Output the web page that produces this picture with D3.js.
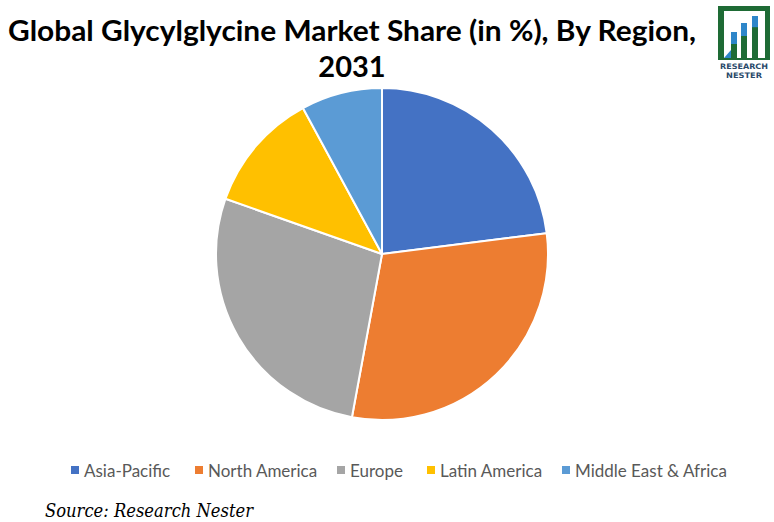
<!DOCTYPE html>
<html><head><meta charset="utf-8">
<script src="https://cdn.jsdelivr.net/npm/d3@7/dist/d3.min.js"></script>
<style>body{margin:0;background:#fff;}svg{display:block;}</style>
</head><body>
<svg id="chart" width="774" height="522"></svg>
<script>
const regions = ["Asia-Pacific", "North America", "Europe", "Latin America", "Middle East & Africa"];
const shares = [23.0, 29.9, 27.5, 11.7, 7.9];
const colors = ["#4472C4", "#ED7D31", "#A5A5A5", "#FFC000", "#5B9BD5"];
const titleLines = ["Global Glycylglycine Market Share (in %), By Region,", "2031"];
const sourceText = "Source: Research Nester";

const svg = d3.select("#chart");
svg.append("rect").attr("width", 774).attr("height", 522).attr("fill", "#fff");

// Title
svg.append("text").attr("x", 352).attr("y", 41).attr("text-anchor", "middle")
  .attr("font-family", "Lato, 'Open Sans', sans-serif").attr("font-weight", "bold")
  .attr("font-size", 29).attr("fill", "#000")
  .attr("textLength", 688).attr("lengthAdjust", "spacingAndGlyphs").text(titleLines[0]);
svg.append("text").attr("x", 352).attr("y", 76.5).attr("text-anchor", "middle")
  .attr("font-family", "Lato, 'Open Sans', sans-serif").attr("font-weight", "bold")
  .attr("font-size", 29).attr("fill", "#000").text(titleLines[1]);

// Pie
const cx = 382, cy = 254, r = 166;
const pie = d3.pie().sort(null).value(d => d);
const arc = d3.arc().innerRadius(0).outerRadius(r);
const g = svg.append("g").attr("transform", `translate(${cx},${cy})`);
g.selectAll("path").data(pie(shares)).join("path")
  .attr("d", arc).attr("fill", (d, i) => colors[i])
  .attr("stroke", "#fff").attr("stroke-width", 2).attr("stroke-linejoin", "round");

// Legend
const legendX = [71, 195, 337, 427, 562];
const lg = svg.append("g");
regions.forEach((name, i) => {
  lg.append("rect").attr("x", legendX[i]).attr("y", 466).attr("width", 8).attr("height", 8).attr("fill", colors[i]);
  lg.append("text").attr("x", legendX[i] + 13).attr("y", 476.5)
    .attr("font-family", "Lato, 'Open Sans', sans-serif").attr("font-size", 17).attr("fill", "#595959").text(name);
});

// Source
svg.append("text").attr("x", 45).attr("y", 517)
  .attr("font-family", "'DejaVu Serif', 'Liberation Serif', serif").attr("font-style", "italic")
  .attr("font-size", 18).attr("fill", "#000").attr("textLength", 208).attr("lengthAdjust", "spacingAndGlyphs").text(sourceText);

// Logo
const logo = svg.append("g");
const green = "#1E6B35", blue = "#2E86C9";
logo.append("rect").attr("x", 718).attr("y", 6).attr("width", 52).attr("height", 5).attr("fill", green);
logo.append("rect").attr("x", 718).attr("y", 6).attr("width", 6).attr("height", 54).attr("fill", green);
logo.append("rect").attr("x", 765).attr("y", 6).attr("width", 5).attr("height", 54).attr("fill", green);
logo.append("rect").attr("x", 718).attr("y", 58).attr("width", 52).attr("height", 2).attr("fill", green);
const bars = [[731, 32], [741, 23], [752, 16]];
bars.forEach(([x, top]) => {
  logo.append("rect").attr("x", x).attr("y", top).attr("width", 6).attr("height", 60 - top).attr("fill", green);
  logo.append("rect").attr("x", x).attr("y", top).attr("width", 6).attr("height", Math.max(0, (44 - (x - 731) * 0.8) - top)).attr("fill", blue);
});
logo.append("path").attr("d", "M724,58 L731,50 L731,58 Z").attr("fill", blue);
logo.append("text").attr("x", 744).attr("y", 69).attr("text-anchor", "middle")
  .attr("font-family", "'DejaVu Sans', sans-serif").attr("font-weight", "bold").attr("font-size", 7.5)
  .attr("fill", "#2a4a6a").attr("textLength", 48).attr("lengthAdjust", "spacingAndGlyphs").text("RESEARCH");
logo.append("text").attr("x", 744).attr("y", 78).attr("text-anchor", "middle")
  .attr("font-family", "'DejaVu Sans', sans-serif").attr("font-weight", "bold").attr("font-size", 7.5)
  .attr("fill", "#2a4a6a").attr("textLength", 36).attr("lengthAdjust", "spacingAndGlyphs").text("NESTER");
</script>
</body></html>
